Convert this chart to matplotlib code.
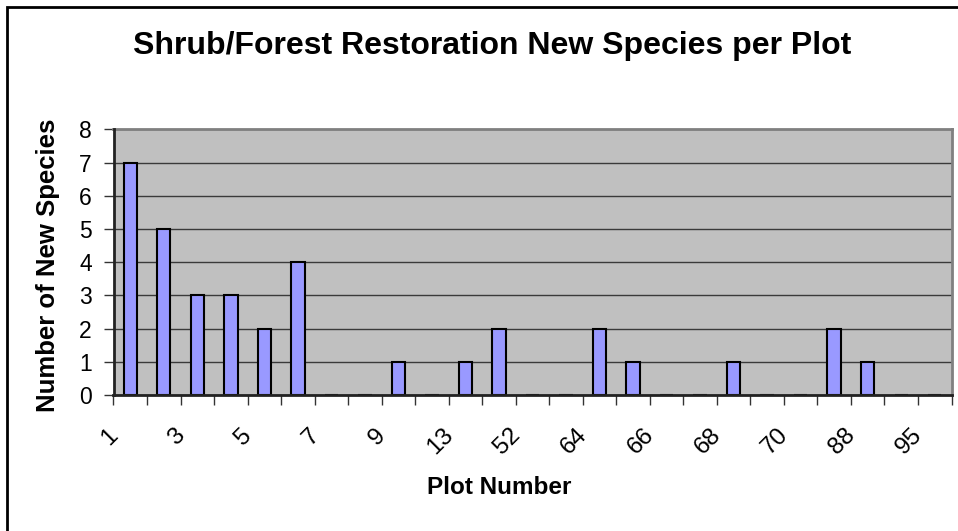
import matplotlib
matplotlib.use("Agg")
import matplotlib.pyplot as plt
import matplotlib.transforms as mtransforms
from matplotlib.patches import Rectangle
import numpy as np

plt.rcParams['font.family'] = ['Liberation Sans', 'DejaVu Sans']

# Data
plot_numbers = ['1', '2', '3', '4', '5', '6', '7', '8', '9', '11', '13', '14', '52', '63',
                '64', '65', '66', '67', '68', '69', '70', '87', '88', '94', '95']
new_species = [7, 5, 3, 3, 2, 4, 0, 0, 1, 0, 1, 2, 0, 0, 2, 1, 0, 0, 1, 0, 0, 2, 1, 0, 0]
shown_labels = ['1', '3', '5', '7', '9', '13', '52', '64', '66', '68', '70', '88', '95']
title = 'Shrub/Forest Restoration New Species per Plot'
xlabel = 'Plot Number'
ylabel = 'Number of New Species'

W, H = 958, 531
fig = plt.figure(figsize=(W / 100, H / 100), dpi=100)
fig.patch.set_facecolor('white')

left, right, top, bottom = 113.5, 951.5, 129.3, 395
ax = fig.add_axes([left / W, 1 - bottom / H, (right - left) / W, (bottom - top) / H])
ax.set_facecolor('#C0C0C0')

n = len(plot_numbers)
x = np.arange(n)
ax.bar(x, new_species, width=0.4, color='#9999FF', edgecolor='black', linewidth=1.5, zorder=2)

ax.set_xlim(-0.5, n - 0.5)
ax.set_ylim(0, 8)
ax.set_yticks(range(0, 9))
ax.yaxis.grid(True, color='#3a3a3a', linewidth=1.0)
ax.set_axisbelow(True)

# x ticks at category boundaries (no labels); labels on minor ticks at every other category
ax.set_xticks(np.arange(-0.5, n, 1.0))
ax.set_xticklabels([])
ax.tick_params(axis='x', which='major', length=7, width=1, color='#333333', direction='out')
label_pos = [plot_numbers.index(s) for s in shown_labels]
ax.set_xticks(label_pos, minor=True)
ax.set_xticklabels(shown_labels, minor=True, rotation=45, ha='right', va='top', fontsize=17.5)
ax.tick_params(axis='x', which='minor', length=0, pad=21)
offset = mtransforms.ScaledTranslation(-8 / 100, 0, fig.dpi_scale_trans)
for lab in ax.get_xticklabels(minor=True):
    lab.set_transform(lab.get_transform() + offset)

ax.tick_params(axis='y', length=7, width=1, color='#333333', pad=8.5, labelsize=16.5)

for s in ['left', 'bottom']:
    ax.spines[s].set_color('#222222')
    ax.spines[s].set_linewidth(2)
    ax.spines[s].set_zorder(3)
for s in ['top', 'right']:
    ax.spines[s].set_color('#808080')
    ax.spines[s].set_linewidth(2)

fig.text(492 / W, 1 - 46 / H, title, ha='center', va='center', fontsize=23, fontweight='bold')
fig.text(499 / W, 1 - 488 / H, xlabel, ha='center', va='center', fontsize=17.5, fontweight='bold')
fig.text(48 / W, 1 - 265 / H, ylabel, ha='center', va='center', rotation=90, fontsize=18.5, fontweight='bold')

# outer chart border
fig.patches.append(Rectangle((7 / W, -0.1), 1.2, 1 - 6.5 / H + 0.1, transform=fig.transFigure,
                             fill=False, edgecolor='black', linewidth=2))

fig.savefig('out.png', dpi=100)
